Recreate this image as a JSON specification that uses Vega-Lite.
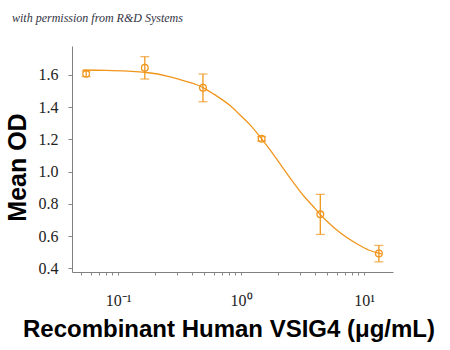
{
  "$schema": "https://vega.github.io/schema/vega-lite/v6.json",
  "width": 321,
  "height": 226,
  "autosize": {"type": "none"},
  "padding": {"left": 72, "top": 46, "right": 57, "bottom": 78},
  "background": "white",
  "config": {"view": {"stroke": null}},
  "title": {
    "text": "with permission from R&D Systems",
    "anchor": "start",
    "frame": "group",
    "dx": -60,
    "offset": 12,
    "baseline": "alphabetic",
    "font": "Liberation Serif",
    "fontStyle": "italic",
    "fontWeight": "normal",
    "fontSize": 12,
    "color": "#333344"
  },
  "datasets": {
    "points": [
      {"conc": 0.055, "od": 1.607, "lo": 1.59, "hi": 1.625},
      {"conc": 0.165, "od": 1.645, "lo": 1.575, "hi": 1.714},
      {"conc": 0.49, "od": 1.521, "lo": 1.434, "hi": 1.606},
      {"conc": 1.47, "od": 1.204, "lo": 1.19, "hi": 1.218},
      {"conc": 4.41, "od": 0.735, "lo": 0.61, "hi": 0.859},
      {"conc": 13.2, "od": 0.492, "lo": 0.44, "hi": 0.542}
    ],
    "curve": [
      {"conc": 0.052, "od": 1.631},
      {"conc": 0.08, "od": 1.629},
      {"conc": 0.12, "od": 1.624},
      {"conc": 0.165, "od": 1.617},
      {"conc": 0.265, "od": 1.589},
      {"conc": 0.35, "od": 1.562},
      {"conc": 0.491, "od": 1.522},
      {"conc": 0.6, "od": 1.481},
      {"conc": 0.814, "od": 1.41},
      {"conc": 1.0, "od": 1.346},
      {"conc": 1.18, "od": 1.292},
      {"conc": 1.47, "od": 1.204},
      {"conc": 1.7, "od": 1.141},
      {"conc": 1.95, "od": 1.078},
      {"conc": 2.5, "od": 0.962},
      {"conc": 3.21, "od": 0.852},
      {"conc": 3.8, "od": 0.79},
      {"conc": 4.41, "od": 0.733},
      {"conc": 5.0, "od": 0.692},
      {"conc": 6.0, "od": 0.637},
      {"conc": 8.73, "od": 0.552},
      {"conc": 11.0, "od": 0.512},
      {"conc": 13.9, "od": 0.49}
    ]
  },
  "encoding": {
    "x": {
      "field": "conc",
      "type": "quantitative",
      "scale": {"type": "log", "domain": [0.0422, 17.2], "nice": false},
      "axis": {
        "title": "Recombinant Human VSIG4 (μg/mL)",
        "values": [0.05, 0.06, 0.07, 0.08, 0.09, 0.1, 0.2, 0.3, 0.4, 0.5, 0.6, 0.7, 0.8, 0.9, 1, 2, 3, 4, 5, 6, 7, 8, 9, 10],
        "labelExpr": "datum.value == 0.1 ? '10⁻¹' : datum.value == 1 ? '10⁰' : datum.value == 10 ? '10¹' : ''",
        "labelFont": "Liberation Sans Narrow",
        "labelFontSize": 16,
        "labelColor": "#222222",
        "labelPadding": 17,
        "labelOverlap": false,
        "labelBound": false,
        "labelFlush": false,
        "tickSize": 3,
        "tickColor": "#888888",
        "domainColor": "#808080",
        "grid": false,
        "titleFont": "Liberation Sans",
        "titleFontWeight": "bold",
        "titleFontSize": 24,
        "titleColor": "#000000",
        "titleBaseline": "alphabetic",
        "titleAlign": "center",
        "titleX": 156.5,
        "titleY": 64
      }
    },
    "y": {
      "field": "od",
      "type": "quantitative",
      "scale": {"domain": [0.377, 1.78], "nice": false, "zero": false},
      "axis": {
        "title": "Mean OD",
        "values": [0.4, 0.6, 0.8, 1.0, 1.2, 1.4, 1.6],
        "format": ".1f",
        "labelFont": "Liberation Sans Narrow",
        "labelFontSize": 16,
        "labelColor": "#222222",
        "labelPadding": 10,
        "tickSize": 4,
        "tickColor": "#888888",
        "domainColor": "#808080",
        "grid": false,
        "titleFont": "Liberation Sans",
        "titleFontWeight": "bold",
        "titleFontSize": 25,
        "titleColor": "#000000",
        "titleBaseline": "alphabetic",
        "titleAlign": "center",
        "titleAngle": -90,
        "titleX": -47,
        "titleY": 121
      }
    }
  },
  "layer": [
    {
      "data": {"name": "curve"},
      "mark": {"type": "line", "color": "#F0961E", "strokeWidth": 1.3, "interpolate": "monotone"}
    },
    {
      "data": {"name": "points"},
      "mark": {"type": "rule", "color": "#F0961E", "strokeWidth": 1.3},
      "encoding": {"y": {"field": "lo", "type": "quantitative"}, "y2": {"field": "hi"}}
    },
    {
      "data": {"name": "points"},
      "mark": {"type": "tick", "orient": "horizontal", "color": "#F0961E", "size": 9, "thickness": 1.3},
      "encoding": {"y": {"field": "lo", "type": "quantitative"}}
    },
    {
      "data": {"name": "points"},
      "mark": {"type": "tick", "orient": "horizontal", "color": "#F0961E", "size": 9, "thickness": 1.3},
      "encoding": {"y": {"field": "hi", "type": "quantitative"}}
    },
    {
      "data": {"name": "points"},
      "mark": {"type": "point", "shape": "circle", "filled": false, "color": "#F0961E", "size": 45, "strokeWidth": 1.3, "opacity": 1}
    }
  ]
}
